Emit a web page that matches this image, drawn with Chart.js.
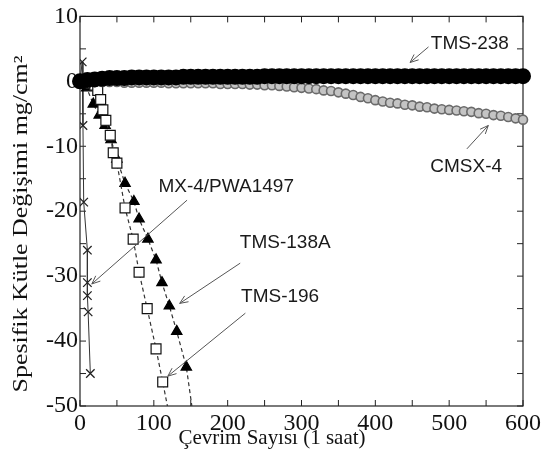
<!DOCTYPE html>
<html>
<head>
<meta charset="utf-8">
<script src="https://cdn.jsdelivr.net/npm/chart.js@4.4.0/dist/chart.umd.min.js"></script>
<style>
html, body { margin: 0; padding: 0; background: #fff; }
#grafico { display: block; }
</style>
</head>
<body>
<canvas id="grafico" width="546" height="467"></canvas>
<script>
// Çevrim sayıları (her 10 çevrimde bir ölçüm)
var cevrim = [0, 10, 20, 30, 40, 50, 60, 70, 80, 90, 100, 110, 120, 130, 140, 150, 160, 170, 180, 190,
    200, 210, 220, 230, 240, 250, 260, 270, 280, 290, 300, 310, 320, 330, 340, 350, 360, 370, 380, 390,
    400, 410, 420, 430, 440, 450, 460, 470, 480, 490, 500, 510, 520, 530, 540, 550, 560, 570, 580, 590, 600];

// TMS-238 (dolu daireler)
var tms238 = [0, 0.2, 0.3, 0.4, 0.5, 0.5, 0.5, 0.6, 0.6, 0.6, 0.6, 0.6, 0.6, 0.6, 0.7, 0.7, 0.7, 0.7, 0.7, 0.7,
    0.7, 0.7, 0.7, 0.7, 0.7, 0.8, 0.8, 0.8, 0.8, 0.8, 0.8, 0.8, 0.8, 0.8, 0.8, 0.8, 0.8, 0.8, 0.8, 0.8,
    0.8, 0.8, 0.8, 0.8, 0.8, 0.8, 0.8, 0.8, 0.8, 0.8, 0.8, 0.8, 0.8, 0.8, 0.8, 0.8, 0.8, 0.8, 0.8, 0.8, 0.8];

// CMSX-4 (gri daireler)
var cmsx4 = [0, 0, -0.1, -0.1, -0.1, -0.1, -0.2, -0.2, -0.2, -0.2, -0.2, -0.2, -0.3, -0.3, -0.3, -0.3, -0.3, -0.3, -0.3, -0.4,
    -0.4, -0.4, -0.4, -0.5, -0.5, -0.6, -0.6, -0.7, -0.8, -0.9, -1.0, -1.1, -1.2, -1.4, -1.5, -1.7, -1.9, -2.1, -2.4, -2.6,
    -2.9, -3.1, -3.3, -3.4, -3.6, -3.7, -3.9, -4.0, -4.2, -4.3, -4.4, -4.5, -4.6, -4.7, -4.9, -5.0, -5.2, -5.3, -5.5, -5.7, -5.9];

// TMS-196 (boş kareler)
var tms196X = [0, 5, 10, 15, 20, 24, 28, 31, 35, 41, 45, 50, 61, 72, 80, 91, 103, 112, 121];
var tms196Y = [0, -0.1, -0.2, -0.3, -0.6, -1.4, -2.8, -4.4, -6.0, -8.3, -11.0, -12.6, -19.5, -24.3, -29.4, -35.0, -41.2, -46.3, -51.5];

// TMS-138A (dolu üçgenler)
var tms138aX = [0, 9, 18, 26, 34, 42, 50, 61, 73, 80, 92, 103, 111, 121, 131, 144, 154];
var tms138aY = [0, -1.0, -3.5, -5.2, -6.8, -9.0, -12.0, -15.7, -18.5, -21.2, -24.3, -27.5, -31.0, -34.6, -38.5, -44.0, -52.0];

// MX-4/PWA1497 (çarpılar)
var mx4X = [0, 3, 4, 5, 10, 10, 10, 11, 14];
var mx4Y = [0, 3.0, -6.8, -18.6, -26.0, -31.0, -33.0, -35.5, -45.0];

// Eksen etiketleri
var xEtiketleri = [0, 100, 200, 300, 400, 500, 600];
var yEtiketleri = [10, 0, -10, -20, -30, -40, -50];

// Açıklamalar (veri koordinatlarında)
var aciklamalar = [
    { metin: 'TMS-238', x: 528, y: 5.8, ok: [472, 5.3, 447, 2.9] },
    { metin: 'CMSX-4', x: 523, y: -13.2, ok: [524, -10.4, 553, -6.8] },
    { metin: 'MX-4/PWA1497', x: 198, y: -16.3, ok: [145, -18.3, 16, -31.2] },
    { metin: 'TMS-138A', x: 278, y: -24.9, ok: [217, -28.0, 135, -34.2] },
    { metin: 'TMS-196', x: 271, y: -33.2, ok: [224, -35.7, 119, -45.4] }
];

function noktalar(xs, ys) {
    return xs.map(function (x, i) { return { x: x, y: ys[i] }; });
}

var serif = "'Liberation Serif', 'Times New Roman', serif";
var sans = "'Liberation Sans', Arial, sans-serif";

// Çerçeve, iç tik çizgileri, eksen başlıkları ve oklar
var cerceve = {
    id: 'cerceve',
    beforeDatasetsDraw: function (chart) {
        var ctx = chart.ctx, a = chart.chartArea;
        var sx = chart.scales.x, sy = chart.scales.y;
        ctx.save();
        ctx.strokeStyle = '#222';
        ctx.lineWidth = 1.2;
        ctx.strokeRect(a.left, a.top, a.right - a.left, a.bottom - a.top);
        ctx.lineWidth = 1;
        ctx.beginPath();
        for (var v = 0; v <= 600; v += 50) {
            var px = sx.getPixelForValue(v);
            ctx.moveTo(px, a.bottom); ctx.lineTo(px, a.bottom - 6);
            ctx.moveTo(px, a.top); ctx.lineTo(px, a.top + 6);
        }
        for (var w = -50; w <= 10; w += 5) {
            var py = sy.getPixelForValue(w);
            ctx.moveTo(a.left, py); ctx.lineTo(a.left + 6, py);
            ctx.moveTo(a.right, py); ctx.lineTo(a.right - 6, py);
        }
        ctx.stroke();
        ctx.restore();
    },
    afterDraw: function (chart) {
        var ctx = chart.ctx;
        var sx = chart.scales.x, sy = chart.scales.y;
        ctx.save();
        ctx.fillStyle = '#111';
        ctx.textAlign = 'center';
        ctx.textBaseline = 'middle';

        // x ekseni başlığı
        ctx.font = '21px ' + serif;
        var t = 'Çevrim Sayısı (1 saat)';
        var k = 187 / ctx.measureText(t).width;
        ctx.save();
        ctx.translate(272, 438);
        ctx.scale(k, 1);
        ctx.fillText(t, 0, 0);
        ctx.restore();

        // y ekseni başlığı
        ctx.font = '20px ' + serif;
        t = 'Spesifik Kütle Değişimi mg/cm²';
        k = 337 / ctx.measureText(t).width;
        ctx.save();
        ctx.translate(22, 224);
        ctx.rotate(-Math.PI / 2);
        ctx.scale(k, 1);
        ctx.fillText(t, 0, 0);
        ctx.restore();

        // açıklamalar
        ctx.font = '19px ' + sans;
        ctx.strokeStyle = '#555';
        ctx.lineWidth = 1;
        aciklamalar.forEach(function (e) {
            ctx.fillStyle = '#1a1a1a';
            ctx.fillText(e.metin, sx.getPixelForValue(e.x), sy.getPixelForValue(e.y));
            var x1 = sx.getPixelForValue(e.ok[0]), y1 = sy.getPixelForValue(e.ok[1]);
            var x2 = sx.getPixelForValue(e.ok[2]), y2 = sy.getPixelForValue(e.ok[3]);
            var aci = Math.atan2(y2 - y1, x2 - x1);
            ctx.beginPath();
            ctx.moveTo(x1, y1); ctx.lineTo(x2, y2);
            ctx.moveTo(x2 - 9 * Math.cos(aci - 0.4), y2 - 9 * Math.sin(aci - 0.4));
            ctx.lineTo(x2, y2);
            ctx.lineTo(x2 - 9 * Math.cos(aci + 0.4), y2 - 9 * Math.sin(aci + 0.4));
            ctx.stroke();
        });
        ctx.restore();
    }
};

var ctx = document.getElementById('grafico').getContext('2d');
var grafik = new Chart(ctx, {
    type: 'scatter',
    data: {
        datasets: [{
            label: 'TMS-238',
            data: noktalar(cevrim, tms238),
            showLine: true,
            borderColor: '#000',
            borderWidth: 5,
            pointStyle: 'circle',
            pointRadius: 5.5,
            pointBackgroundColor: '#000',
            pointBorderColor: '#000',
            clip: false
        }, {
            label: 'CMSX-4',
            data: noktalar(cevrim, cmsx4),
            showLine: true,
            borderColor: '#777',
            borderWidth: 1,
            pointStyle: 'circle',
            pointRadius: 4.5,
            pointBorderWidth: 1.6,
            pointBackgroundColor: '#c4c4c4',
            pointBorderColor: '#6a6a6a',
            clip: false
        }, {
            label: 'TMS-196',
            data: noktalar(tms196X, tms196Y),
            showLine: true,
            borderColor: '#333',
            borderWidth: 1.2,
            borderDash: [4, 3],
            pointStyle: 'rect',
            pointRadius: 7,
            pointBorderWidth: 1.2,
            pointBackgroundColor: '#fff',
            pointBorderColor: '#111',
            clip: 0
        }, {
            label: 'TMS-138A',
            data: noktalar(tms138aX, tms138aY),
            showLine: true,
            borderColor: '#333',
            borderWidth: 1.2,
            borderDash: [4, 3],
            pointStyle: 'triangle',
            pointRadius: 6,
            pointBackgroundColor: '#000',
            pointBorderColor: '#000',
            clip: 0
        }, {
            label: 'MX-4/PWA1497',
            data: noktalar(mx4X, mx4Y),
            showLine: true,
            borderColor: '#333',
            borderWidth: 1,
            pointStyle: 'crossRot',
            pointRadius: 6,
            pointBorderWidth: 1.3,
            pointBorderColor: '#222',
            clip: 0
        }]
    },
    options: {
        responsive: false,
        animation: false,
        events: [],
        layout: { padding: { top: 16, right: 23, left: 0, bottom: 0 } },
        scales: {
            x: {
                type: 'linear',
                min: 0,
                max: 600,
                grid: { display: false, drawTicks: false },
                border: { display: false },
                afterFit: function (s) { s.height = 61; },
                afterBuildTicks: function (s) {
                    s.ticks = xEtiketleri.map(function (v) { return { value: v }; });
                },
                ticks: {
                    padding: 3,
                    color: '#111',
                    maxRotation: 0,
                    autoSkip: false,
                    font: { family: serif, size: 24 }
                }
            },
            y: {
                type: 'linear',
                min: -50,
                max: 10,
                grid: { display: false, drawTicks: false },
                border: { display: false },
                afterFit: function (s) { s.width = 80; },
                afterBuildTicks: function (s) {
                    s.ticks = yEtiketleri.map(function (v) { return { value: v }; });
                },
                ticks: {
                    padding: 2,
                    color: '#111',
                    autoSkip: false,
                    font: { family: serif, size: 24 }
                }
            }
        },
        plugins: {
            legend: { display: false },
            tooltip: { enabled: false }
        }
    },
    plugins: [cerceve]
});
</script>
</body>
</html>
